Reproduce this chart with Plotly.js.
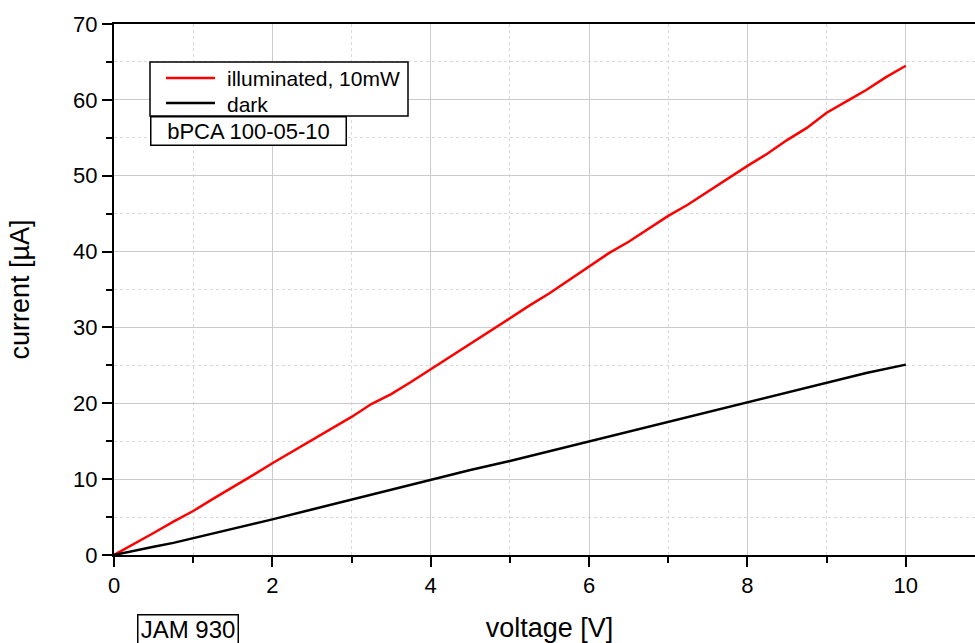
<!DOCTYPE html>
<html>
<head>
<meta charset="utf-8">
<script src="https://cdn.plot.ly/plotly-3.0.1.min.js"></script>
<style>
html, body { margin: 0; padding: 0; overflow: hidden; background: #fff; width: 975px; height: 643px; }
#chart { width: 1000px; height: 643px; }
</style>
</head>
<body>
<div id="chart"></div>
<script>
// Illuminated (10 mW) I-V curve
const voltageLit = [0, 0.25, 0.5, 0.75, 1, 1.25, 1.5, 1.75, 2, 2.25, 2.5, 2.75, 3, 3.25, 3.5, 3.75, 4, 4.25, 4.5, 4.75, 5, 5.25, 5.5, 5.75, 6, 6.25, 6.5, 6.75, 7, 7.25, 7.5, 7.75, 8, 8.25, 8.5, 8.75, 9, 9.25, 9.5, 9.75, 10];
const currentLit = [0, 1.4, 2.9, 4.4, 5.8, 7.4, 8.9, 10.5, 12.1, 13.6, 15.1, 16.6, 18.2, 19.9, 21.2, 22.8, 24.5, 26.2, 27.9, 29.6, 31.3, 32.9, 34.5, 36.3, 38.1, 39.8, 41.3, 43.0, 44.7, 46.2, 47.9, 49.7, 51.3, 52.9, 54.7, 56.3, 58.3, 59.8, 61.3, 63.0, 64.5];

// Dark I-V curve
const voltageDark = [0, 0.25, 0.5, 0.75, 1, 1.5, 2, 2.5, 3, 3.3, 3.5, 4, 4.5, 5, 5.5, 6, 6.5, 7, 7.5, 8, 8.5, 9, 9.5, 10];
const currentDark = [0, 0.5, 1.1, 1.6, 2.2, 3.4, 4.7, 6.0, 7.3, 8.1, 8.6, 9.9, 11.2, 12.4, 13.7, 15.0, 16.3, 17.6, 18.9, 20.2, 21.5, 22.7, 24.0, 25.1];

const seriesNames = ["illuminated, 10mW", "dark"];
const seriesColors = ["#ff0000", "#000000"];
const sampleLabel = "bPCA 100-05-10";
const footLabel = "JAM 930";
const xTitle = "voltage [V]";
const yTitle = "current [\u00b5A]";

const FONT = "Liberation Sans, Arial, sans-serif";

// plot-area geometry (pixels) used to place legend / label boxes in paper units
const M = { l: 114, r: 15, t: 24, b: 88 }, W = 1000, H = 643;
const PW = W - M.l - M.r, PH = H - M.t - M.b;
const px = v => (v - M.l) / PW;
const py = v => (H - M.b - v) / PH;

const traces = [
  { x: voltageLit, y: currentLit, name: seriesNames[0], type: "scatter", mode: "lines",
    line: { color: seriesColors[0], width: 2.5 } },
  { x: voltageDark, y: currentDark, name: seriesNames[1], type: "scatter", mode: "lines",
    line: { color: seriesColors[1], width: 2.5 } }
];

const axisCommon = {
  showline: true, linecolor: "#000", linewidth: 2,
  ticks: "outside", ticklen: 10, tickwidth: 2, tickcolor: "#000",
  showgrid: true, gridcolor: "#cccccc", gridwidth: 1,
  zeroline: false,
  tickfont: { family: FONT, size: 22, color: "#000" }
};

// legend drawn as a boxed key (box, sample lines, labels)
const legendShapes = [
  { type: "rect", xref: "paper", yref: "paper", x0: px(150), x1: px(408), y0: py(62), y1: py(116),
    line: { color: "#000", width: 1.5 }, fillcolor: "#fff", layer: "above" },
  { type: "line", xref: "paper", yref: "paper", x0: px(166), x1: px(215), y0: py(78), y1: py(78),
    line: { color: seriesColors[0], width: 2.5 }, layer: "above" },
  { type: "line", xref: "paper", yref: "paper", x0: px(166), x1: px(215), y0: py(103), y1: py(103),
    line: { color: seriesColors[1], width: 2.5 }, layer: "above" }
];
const legendTexts = [
  { text: seriesNames[0], xref: "paper", yref: "paper", x: px(225), y: py(79), xanchor: "left", yanchor: "middle",
    showarrow: false, font: { family: FONT, size: 21, color: "#000" } },
  { text: seriesNames[1], xref: "paper", yref: "paper", x: px(225), y: py(104), xanchor: "left", yanchor: "middle",
    showarrow: false, font: { family: FONT, size: 21, color: "#000" } }
];

const layout = {
  width: W, height: H,
  margin: M,
  paper_bgcolor: "#fff", plot_bgcolor: "#fff",
  font: { family: FONT, color: "#000" },
  showlegend: false,
  xaxis: Object.assign({}, axisCommon, {
    range: [0, 11], dtick: 2, tick0: 0, mirror: true,
    minor: { dtick: 1, ticks: "outside", ticklen: 6, tickwidth: 2, tickcolor: "#000",
             showgrid: true, gridcolor: "#d9d9d9", griddash: "dot", gridwidth: 1 },
    title: { text: xTitle, font: { family: FONT, size: 27, color: "#000" }, standoff: 23 }
  }),
  yaxis: Object.assign({}, axisCommon, {
    range: [0, 70], dtick: 10, tick0: 0,
    minor: { dtick: 5, ticks: "outside", ticklen: 6, tickwidth: 2, tickcolor: "#000",
             showgrid: true, gridcolor: "#d9d9d9", griddash: "dot", gridwidth: 1 },
    title: { text: yTitle, font: { family: FONT, size: 27, color: "#000" }, standoff: 36 }
  }),
  shapes: legendShapes,
  annotations: legendTexts.concat([
    { text: sampleLabel, xref: "paper", yref: "paper", x: px(150), y: py(116),
      xanchor: "left", yanchor: "top", showarrow: false,
      font: { family: FONT, size: 22, color: "#000" },
      bordercolor: "#000", borderwidth: 1.5, borderpad: 0, bgcolor: "#fff",
      width: 194, height: 27, align: "center" },
    { text: footLabel, xref: "paper", yref: "paper", x: px(137), y: py(614),
      xanchor: "left", yanchor: "top", showarrow: false,
      font: { family: FONT, size: 24, color: "#000" },
      bordercolor: "#000", borderwidth: 1.5, borderpad: 0, bgcolor: "#fff",
      width: 99, height: 36, align: "center", valign: "top" }
  ])
};

Plotly.newPlot("chart", traces, layout, { displayModeBar: false, staticPlot: true });
</script>
</body>
</html>
